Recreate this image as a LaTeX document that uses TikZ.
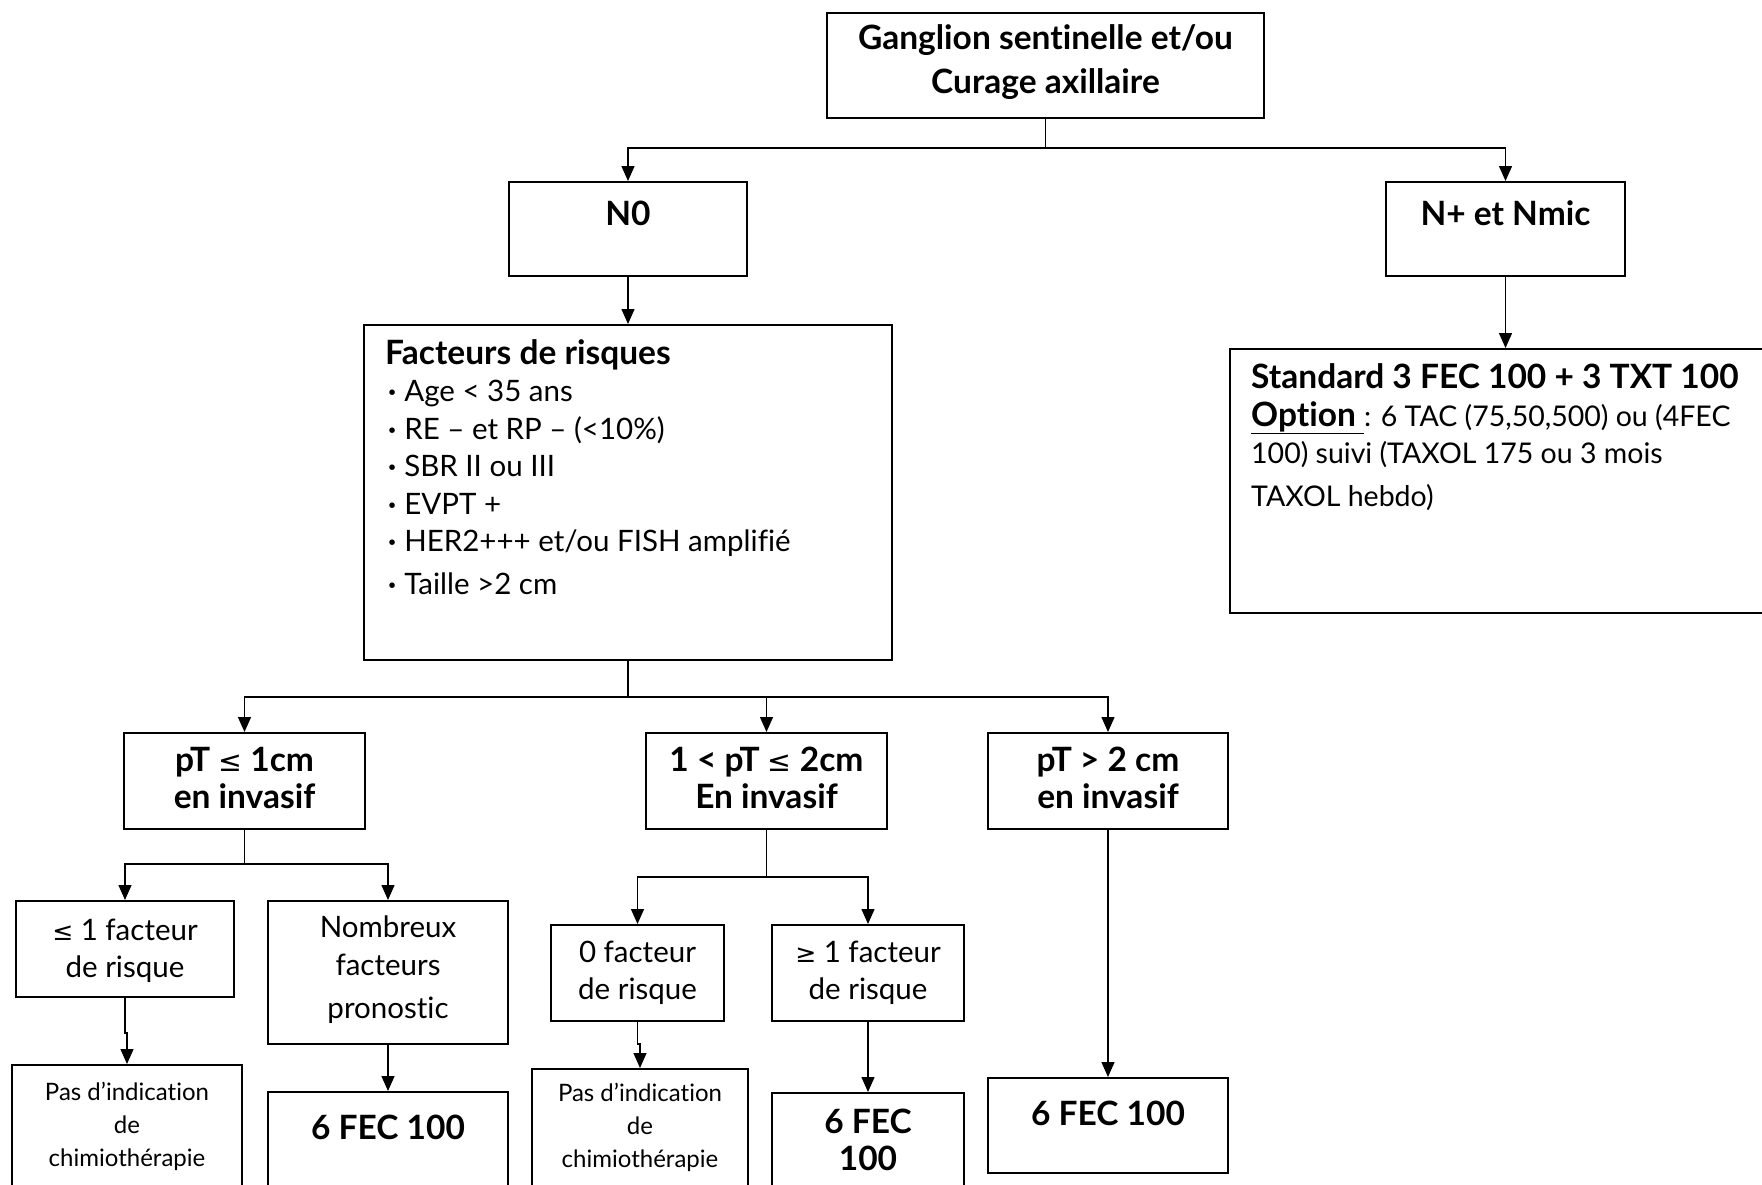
\documentclass[tikz,border=0pt]{standalone}
\usepackage{fontspec}
\setmainfont[Ligatures=NoCommon]{Lato}
\newfontfamily\dvsym{DejaVu Sans}
\usetikzlibrary{arrows.meta,fit}
\newcommand\fsBody{\fontsize{29.5}{37.5}\selectfont}
\newcommand\fsStd{\fontsize{28.5}{37.5}\selectfont}
\newcommand\fsBold{\fontsize{33.5}{37.5}\selectfont\bfseries}
\newcommand\fsSmall{\fontsize{24}{33}\selectfont}
\newcommand\lesym{{\dvsym\mdseries\scalebox{0.85}{≤}}}
\newcommand\gesym{{\dvsym\mdseries\scalebox{0.85}{≥}}}
\newcommand\itemdot{\hspace*{3pt}{\bfseries ·}\hspace{8pt}}
\begin{document}
\begin{tikzpicture}[x=1pt,y=-1pt,
  box/.style={draw, line width=2pt, inner sep=0pt},
  txt/.style={inner sep=0pt, align=center, font=\fsBody},
  btxt/.style={inner sep=0pt, align=center, font=\fsBold},
  small/.style={inner sep=0pt, align=center, font=\fsSmall},
  conn/.style={line width=1.4pt},
  arr/.style={line width=1.4pt, -{Triangle[width=13pt,length=15pt]}}]
\useasboundingbox (0,0) rectangle (1762,1184);
\fill[white] (0,0) rectangle (1762,1184);
\clip (0,0) rectangle (1762,1184);

% --- boxes and their texts ---
\node[box, fit={(827,13)(1264,118)}] (top) {};
\node[btxt] (toptxt) at (1045.5,62)
  {Ganglion sentinelle et/ou\\[6pt]Curage axillaire};

\node[box, fit={(509,182)(747,276)}] (n0) {};
\node[btxt] (n0txt) at (628,213) {N0};

\node[box, fit={(1386,182)(1625,276)}] (np) {};
\node[btxt] (nptxt) at (1505.5,213) {N+ et Nmic};

\node[box, fit={(364,325)(892,660)}] (fr) {};
\node[txt, anchor=west, align=left] (frtxt) at (385,467)
  {{\fsBold Facteurs de risques}\\
   \itemdot Age < 35 ans\\
   \itemdot RE – et RP – (<10\%)\\
   \itemdot SBR II ou III\\
   \itemdot EVPT +\\
   \itemdot HER2+++ et/ou FISH amplifié\\[5pt]
   \itemdot Taille >2 cm};

\node[box, fit={(1230,349)(1780,613)}] (std) {};
\node[txt, font=\fsStd, anchor=west, align=left] (stdtxt) at (1251,437)
  {{\fsBold Standard 3 FEC 100 + 3 TXT 100}\\
   {\fsBold\underline{Option }}: 6 TAC (75,50,500) ou (4FEC\\
   100) suivi (TAXOL 175 ou 3 mois\\[5pt]
   TAXOL hebdo)};

\node[box, fit={(124,733)(365,829)}] (pa) {};
\node[btxt] (patxt) at (244.5,778) {pT \lesym{} 1cm\\en invasif};
\node[box, fit={(646,733)(887,829)}] (pb) {};
\node[btxt] (pbtxt) at (766.5,778) {1 < pT \lesym{} 2cm\\En invasif};
\node[box, fit={(988,733)(1228,829)}] (pc) {};
\node[btxt] (pctxt) at (1108,778) {pT > 2 cm\\en invasif};

\node[box, fit={(16,901)(234,997)}] (la) {};
\node[txt] (latxt) at (125,951) {\lesym{} 1 facteur\\de risque};
\node[box, fit={(268,901)(508,1044)}] (lb) {};
\node[txt] (lbtxt) at (388,970) {Nombreux\\facteurs\\[6pt]pronostic};

\node[box, fit={(551,925)(724,1021)}] (ma) {};
\node[txt] (matxt) at (637.5,973) {0 facteur\\de risque};
\node[box, fit={(772,925)(964,1021)}] (mb) {};
\node[txt] (mbtxt) at (868,973) {\gesym{} 1 facteur\\de risque};

\node[box, fit={(12,1065)(242,1200)}] (lpas) {};
\node[small] (lpastxt) at (127,1126) {Pas d’indication\\de\\chimiothérapie};
\node[box, fit={(268,1092)(508,1200)}] (lfec) {};
\node[btxt] (lfectxt) at (388,1127) {6 FEC 100};

\node[box, fit={(532,1069)(748,1200)}] (mpas) {};
\node[small] (mpastxt) at (640,1127) {Pas d’indication\\de\\chimiothérapie};
\node[box, fit={(772,1093)(964,1200)}] (mfec) {};
\node[btxt] (mfectxt) at (868,1140) {6 FEC\\100};

\node[box, fit={(988,1078)(1228,1173)}] (rfec) {};
\node[btxt] (rfectxt) at (1108,1113) {6 FEC 100};

% --- connectors ---
\coordinate (j1) at (1045.5,148);
\draw[conn] (top.south) -- (j1);
\draw[arr] (j1) -| (n0.north);
\draw[arr] (j1) -| (np.north);
\draw[arr] (n0.south) -- (fr.north);
\draw[arr] (np.south) -- (np.south |- std.north);

\coordinate (j2) at (628,697);
\draw[conn] (fr.south) -- (j2);
\draw[arr] (j2) -| (pa.north);
\draw[arr] (j2) -| (pb.north);
\draw[arr] (j2) -| (pc.north);

\coordinate (j3) at (244.5,864);
\draw[conn] (pa.south) -- (j3);
\draw[arr] (j3) -| (la.north);
\draw[arr] (j3) -| (lb.north);

\coordinate (j4) at (766.5,877);
\draw[conn] (pb.south) -- (j4);
\draw[arr] (j4) -| (ma.north);
\draw[arr] (j4) -| (mb.north);

\draw[arr] (pc.south) -- (rfec.north);
\draw[arr] (la.south) -- ++(0,35) -| (lpas.north);
\draw[arr] (lb.south) -- (lfec.north);
\draw[arr] (ma.south) -- ++(0,22) -| (mpas.north);
\draw[arr] (mb.south) -- (mfec.north);
\end{tikzpicture}
\end{document}
